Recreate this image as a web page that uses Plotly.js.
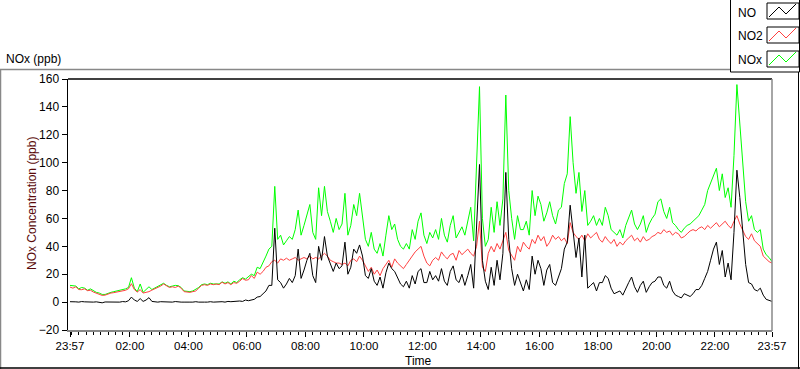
<!DOCTYPE html>
<html>
<head>
<meta charset="utf-8">
<script src="https://cdn.plot.ly/plotly-3.0.1.min.js"></script>
<style>html,body{margin:0;padding:0;background:#fff;}#chart{width:800px;height:369px;}</style>
</head>
<body>
<div id="chart"></div>
<script>
// sampling: one reading every 6 minutes from 23:57 to 23:57 next day
var startTime = "2024-01-01 23:57:00";
var stepMinutes = 6;

var seriesNames = ["NO", "NO2", "NOx"];

var no2 = [
10.8,10,11,9,8.9,9.5,8.2,8.5,7.2,6.5,5.5,4.8,5,5.8,6.5,6.8,7.2,7.5,8,8.5,9.6,
13.2,9,7.2,9,6.5,7,7.5,8.6,9.5,10.8,11.5,13,11.5,10.5,11,10.5,11.5,10,7.5,7.2,
7,7.5,8,10,12,12.5,12,13,12.5,13,12.5,14.3,13,14,12.5,14,13.5,15,16.9,15.7,
16,19,17,21.5,20,22,25,26,29,30,28,31,30,31.5,30,31,32,30,31,32,
31,33,31,32,31,33,35,33,30,29,28,28,27,28,26,30,31,29,33,30,
26,22,25,20,23,19,24,27,30,25,31,28,26,24,27,30,33,36,38,40,
33,28,26,30,32,30,36,33,31,34,35,30,37,34,36,38,35,33,40,58,
25,22,35,40,36,42,38,44,50,37,33,30,40,36,43,40,38,45,42,48,
44,47,40,43,48,45,47,44,46,42,57,50,47,45,48,44,49,46,48,50,
45,43,47,44,42,45,40,43,41,44,46,48,44,46,43,47,44,45,47,48,
50,49,52,50,51,48,50,49,46,47,49,51,52,51,53,54,52,55,53,55,
57,54,56,58,55,53,58,62,56,52,47,45,49,44,42,40,33,31,29,28
];

var nox = [
12,11.5,11.5,9.5,10.5,10,8.5,9.5,8,7,6.5,5.5,5.5,6.5,7,7.5,8,8,8.5,9.5,10.5,
17.5,10,7.5,13,7,9,11,9,10,11,12,13.5,12,11,11.5,12,11.8,10.5,8,7.5,
7.5,8,9,10.5,12.5,13,12.5,13.5,13,13.2,13,14.5,13.5,14.5,13,15,14,16,17.5,16.5,
18,20,19,25,24,28,33,38,40,83,45,48,41,44,47,45,52,66,48,55,
62,70,50,45,82,62,83,65,58,50,60,52,56,78,48,55,70,62,78,62,
45,40,50,38,35,42,33,48,62,52,56,45,40,38,42,38,52,45,58,64,
48,42,50,46,52,45,60,48,43,55,62,46,50,54,48,57,68,44,100,154.5,
60,40,45,68,50,72,55,74,148.5,80,60,45,62,52,52,58,48,80,62,76,
70,58,64,72,62,56,66,68,85,92,133,100,78,93,65,80,55,58,62,55,
60,55,68,62,52,50,48,52,46,55,60,66,56,52,56,62,50,56,60,63,
72,74,65,60,68,57,55,52,50,53,55,56,58,60,62,66,70,80,85,90,
96,80,92,75,82,68,105,156,130,100,72,58,62,52,50,52,38,34,32,29
];

var no = [
0.3,0.5,0.2,0,0.4,0.2,0,0.3,0,0.2,0,-0.5,0.1,0,0.3,0,0.2,0,0.4,0.2,1,
3.6,1.5,0.5,2.5,0.5,1.5,3.2,0.5,0.2,0,0.3,0.2,0,0.3,0,0.4,0,0,0,0.2,
0,0,0.3,0,0.2,0,0,0.3,0,0.2,0.5,0.3,0,0.5,0.3,0.5,0.6,0.8,0.5,1.5,
1,1.5,2,3.6,4,6,8,12,12,53,16,14,10,13,17,14,19,38,17,23,
30,35,19,14,40,30,47,33,28,22,28,24,26,43,20,25,38,35,41,33,
19,17,24,15,12,18,10,21,28,24,22,17,13,11,15,10,19,13,22,24,
14,14,22,16,19,15,24,15,12,22,26,16,14,20,12,19,27,10,55,98.7,
30,15,9,25,12,30,16,35,93,45,24,12,20,14,8,16,9,33,20,30,
24,12,23,27,14,12,18,24,38,43,69.5,48,32,46,18,48,10,12,14,8,
14,14,19,17,10,6,7,8,5,10,14,18,11,7,12,15,7,11,14,15,
18,18,12,10,15,8,5,4,3,6,5,4,6,9,9,12,17,22,30,38,
43,27,37,18,28,16,50,94.6,75,50,27,14,13,9,8,10,5,2,1,0.5
];

var xTickVals = ["2024-01-01 23:57","2024-01-02 02:00","2024-01-02 04:00","2024-01-02 06:00","2024-01-02 08:00",
  "2024-01-02 10:00","2024-01-02 12:00","2024-01-02 14:00","2024-01-02 16:00","2024-01-02 18:00",
  "2024-01-02 20:00","2024-01-02 22:00","2024-01-02 23:57"];
var xTickText = ["23:57","02:00","04:00","06:00","08:00","10:00","12:00","14:00","16:00","18:00","20:00","22:00","23:57"];
var yTickVals = [-20,0,20,40,60,80,100,120,140,160];

function pad(n){return (n<10?"0":"")+n;}
function timeAxis(n){
  var base = Date.UTC(2024,0,1,23,57,0);
  var out = [];
  for (var i=0;i<n;i++){
    var d = new Date(base + i*stepMinutes*60000);
    out.push(d.getUTCFullYear()+"-"+pad(d.getUTCMonth()+1)+"-"+pad(d.getUTCDate())+" "+pad(d.getUTCHours())+":"+pad(d.getUTCMinutes())+":00");
  }
  return out;
}
var t = timeAxis(no.length);

var W=800,H=369,L=68,R=772,T=79,B=330;
function px(x){return (x-L)/(R-L);}
function py(y){return (B-y)/(B-T);}
function seg(x0,y0,x1,y1,color,w){
  return {type:"line",xref:"paper",yref:"paper",x0:px(x0),y0:py(y0),x1:px(x1),y1:py(y1),line:{color:color,width:w||1},layer:"above"};
}
function rect(x0,y0,x1,y1){
  return {type:"rect",xref:"paper",yref:"paper",x0:px(x0),y0:py(y0),x1:px(x1),y1:py(y1),line:{color:"#000",width:1},fillcolor:"#fff",layer:"above"};
}
function zig(yOff,color){
  var pts=[[769,17],[779,7],[786,14],[796,4]];
  var d="";
  pts.forEach(function(p,i){d+=(i?"L":"M")+px(p[0])+","+py(p[1]+yOff);});
  return {type:"path",xref:"paper",yref:"paper",path:d,line:{color:color,width:1},layer:"above"};
}

var colors = {"NO":"#000000","NO2":"#ff4040","NOx":"#00ff00"};

var traces = [
  {x:t,y:nox,name:"NOx",type:"scatter",mode:"lines",line:{color:colors.NOx,width:1},showlegend:false},
  {x:t,y:no2,name:"NO2",type:"scatter",mode:"lines",line:{color:colors.NO2,width:1},showlegend:false},
  {x:t,y:no,name:"NO",type:"scatter",mode:"lines",line:{color:colors.NO,width:1},showlegend:false}
];

var font = {family:"Liberation Sans, Arial, sans-serif",size:12,color:"#000"};

var shapes = [
  seg(L,T,R,T,"#000",1.5),
  seg(R,T,R,B+1,"#888",1.5),
  seg(0,69.5,730,69.5,"#888",1.5),
  seg(0.5,69.5,0.5,369,"#888",1.5),
  seg(0,368,800,368,"#000",1.5),
  seg(798.5,72,798.5,369,"#000",1),
  rect(730.5,-1,799.5,72),
  rect(767,3,799,19),
  rect(767,27,799,43),
  rect(767,51,799,67),
  zig(0,colors.NO),
  zig(24,colors.NO2),
  zig(48,colors.NOx)
];

var annotations = [
  {text:"NOx (ppb)",xref:"paper",yref:"paper",x:px(4),y:py(59),xanchor:"left",yanchor:"middle",showarrow:false,font:font},
  {text:"NOx Concentration (ppb)",xref:"paper",yref:"paper",x:px(32),y:py(204),xanchor:"center",yanchor:"middle",textangle:-90,showarrow:false,font:{family:font.family,size:12,color:"#5a0a0a"}},
  {text:"Time",xref:"paper",yref:"paper",x:px(418),y:py(361),xanchor:"center",yanchor:"middle",showarrow:false,font:font},
  {text:seriesNames[0],xref:"paper",yref:"paper",x:px(736),y:py(13),xanchor:"left",yanchor:"middle",showarrow:false,font:font},
  {text:seriesNames[1],xref:"paper",yref:"paper",x:px(736),y:py(36),xanchor:"left",yanchor:"middle",showarrow:false,font:font},
  {text:seriesNames[2],xref:"paper",yref:"paper",x:px(736),y:py(60),xanchor:"left",yanchor:"middle",showarrow:false,font:font}
];

var layout = {
  width:W,height:H,
  margin:{l:L,r:W-R,t:T,b:H-B,pad:0},
  paper_bgcolor:"#fff",plot_bgcolor:"#fff",
  font:font,
  showlegend:false,
  xaxis:{
    type:"date",
    range:["2024-01-01 23:52:54","2024-01-02 23:57:00"],
    tickmode:"array",tickvals:xTickVals,ticktext:xTickText,
    ticks:"outside",ticklen:5,tickwidth:1,tickcolor:"#000",
    showline:true,linecolor:"#888",linewidth:1.5,
    showgrid:false,zeroline:false,
    tickfont:{family:font.family,size:11.5,color:"#000"},
    minor:{tickmode:"linear",tick0:"2024-01-02 00:00",dtick:15*60000,ticks:"outside",ticklen:3,tickwidth:1,tickcolor:"#000",showgrid:false}
  },
  yaxis:{
    range:[-20,160],
    tickmode:"array",tickvals:yTickVals,
    ticks:"outside",ticklen:5,tickwidth:1,tickcolor:"#000",
    showline:true,linecolor:"#000",linewidth:1.5,
    showgrid:false,zeroline:false,
    tickfont:font
  },
  shapes:shapes,
  annotations:annotations
};

Plotly.newPlot("chart",traces,layout,{staticPlot:true,displayModeBar:false});
</script>
</body>
</html>
